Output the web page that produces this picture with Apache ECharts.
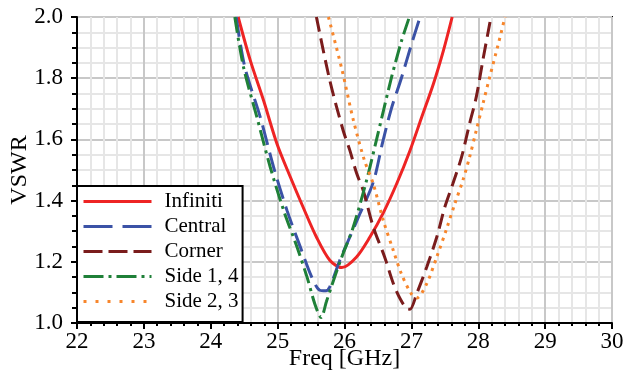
<!DOCTYPE html>
<html>
<head>
<meta charset="utf-8">
<script src="https://cdn.jsdelivr.net/npm/echarts@6/dist/echarts.min.js"></script>
<style>
  html, body { margin: 0; padding: 0; background: #fff; }
  #chart { width: 625px; height: 373px; }
</style>
</head>
<body>
<div id="chart"></div>
<script>
// Frequency sweep (GHz) and VSWR for each configuration
const infinitiFreq = [24.41, 24.59, 24.79, 24.99, 25.19, 25.38, 25.58, 25.78, 25.96, 26.18, 26.38, 26.58, 26.78, 26.98, 27.15, 27.33, 27.48, 27.61];
const infinitiVswr = [2.0, 1.859, 1.727, 1.586, 1.477, 1.379, 1.281, 1.205, 1.181, 1.216, 1.281, 1.36, 1.455, 1.564, 1.67, 1.782, 1.891, 2.0];

const centralFreq = [24.38, 24.51, 24.74, 24.94, 25.14, 25.34, 25.51, 25.63, 25.72, 25.78, 25.93, 26.08, 26.23, 26.43, 26.57, 26.70, 26.85, 27.0, 27.13];
const centralVswr = [2.0, 1.836, 1.673, 1.509, 1.368, 1.248, 1.15, 1.107, 1.105, 1.118, 1.205, 1.281, 1.357, 1.46, 1.59, 1.70, 1.80, 1.91, 2.0];

const cornerFreq = [25.58, 25.78, 25.98, 26.08, 26.18, 26.28, 26.43, 26.60, 26.73, 26.83, 26.93, 26.98, 27.08, 27.23, 27.38, 27.50, 27.62, 27.75, 27.87, 27.97, 28.07, 28.19];
const cornerVswr = [2.0, 1.793, 1.629, 1.564, 1.49, 1.433, 1.314, 1.216, 1.129, 1.08, 1.047, 1.045, 1.096, 1.183, 1.281, 1.379, 1.455, 1.542, 1.651, 1.738, 1.86, 2.0];

const side14Freq = [24.36, 24.49, 24.69, 24.89, 25.09, 25.29, 25.44, 25.56, 25.65, 25.73, 25.81, 25.96, 26.13, 26.33, 26.48, 26.70, 26.85, 26.97];
const side14Vswr = [2.0, 1.836, 1.673, 1.509, 1.368, 1.248, 1.15, 1.06, 1.018, 1.07, 1.123, 1.216, 1.313, 1.466, 1.60, 1.80, 1.92, 2.0];

const side23Freq = [25.76, 25.96, 26.13, 26.30, 26.43, 26.58, 26.73, 26.85, 27.0, 27.08, 27.23, 27.38, 27.53, 27.65, 27.77, 27.87, 27.97, 28.07, 28.17, 28.30, 28.40];
const side23Vswr = [2.0, 1.83, 1.665, 1.53, 1.455, 1.335, 1.237, 1.161, 1.095, 1.082, 1.129, 1.216, 1.31, 1.39, 1.466, 1.542, 1.629, 1.716, 1.803, 1.912, 2.0];

const seriesNames = ['Infiniti', 'Central', 'Corner', 'Side 1, 4', 'Side 2, 3'];

const xTicks = { min: 22, max: 30, step: 1 };
const yTicks = { min: 1.0, max: 2.0, step: 0.2 };

const pairs = (fs, vs) => fs.map((f, i) => [f, vs[i]]);

const FONT = '"Liberation Serif", "Times New Roman", serif';

// line colour, dash pattern in the plot, dash pattern in the legend key
const styles = [
  { color: '#ee2424', dash: 'solid', key: 'solid' },
  { color: '#3b52a6', dash: [20, 8], key: [29, 10] },
  { color: '#7a1c1c', dash: [15, 7], key: [19, 6] },
  { color: '#1f8038', dash: [16, 5, 3, 5], key: [20, 5, 3, 5] },
  { color: '#f7862c', dash: [3, 5], key: [3, 9] }
];

const chart = echarts.init(document.getElementById('chart'), null, { renderer: 'canvas' });

function lineSeries(i, data) {
  const s = styles[i];
  return {
    name: seriesNames[i],
    type: 'line',
    data: data,
    symbol: 'none',
    smooth: 0.3,
    clip: true,
    lineStyle: { color: s.color, width: 3, type: s.dash, cap: 'butt' },
    itemStyle: { color: s.color }
  };
}

chart.setOption({
  animation: false,
  backgroundColor: '#fff',
  grid: {
    left: 77, right: 13, top: 17, bottom: 50,
    containLabel: false, outerBoundsMode: 'none',
    show: true, borderColor: '#000', borderWidth: 2, backgroundColor: 'transparent'
  },
  xAxis: {
    type: 'value',
    min: xTicks.min, max: xTicks.max, interval: xTicks.step,
    name: 'Freq [GHz]', nameLocation: 'middle', nameGap: 24, nameMoveOverlap: false,
    nameTextStyle: { fontFamily: FONT, fontSize: 24, color: '#000' },
    axisLine: { show: true, onZero: false, lineStyle: { color: '#000', width: 2 } },
    axisTick: { show: true, inside: false, length: 6, lineStyle: { color: '#000', width: 2 } },
    minorTick: { show: true, splitNumber: 5, length: 3, lineStyle: { color: '#000', width: 2 } },
    axisLabel: { fontFamily: FONT, fontSize: 23, color: '#000', margin: 7 },
    splitLine: { show: true, lineStyle: { color: '#c8c8c8', width: 2 } },
    minorSplitLine: { show: true, lineStyle: { color: '#e6e6e6', width: 2 } }
  },
  yAxis: {
    type: 'value',
    min: yTicks.min, max: yTicks.max, interval: yTicks.step,
    name: 'VSWR', nameLocation: 'middle', nameGap: 45, nameRotate: 90, nameMoveOverlap: false,
    nameTextStyle: { fontFamily: FONT, fontSize: 24, color: '#000' },
    axisLine: { show: true, onZero: false, lineStyle: { color: '#000', width: 2 } },
    axisTick: { show: true, inside: false, length: 6, lineStyle: { color: '#000', width: 2 } },
    minorTick: { show: true, splitNumber: 4, length: 5, lineStyle: { color: '#000', width: 2 } },
    axisLabel: { fontFamily: FONT, fontSize: 23, color: '#000', margin: 14,
      formatter: v => v.toFixed(1) },
    splitLine: { show: true, lineStyle: { color: '#c8c8c8', width: 2 } },
    minorSplitLine: { show: true, lineStyle: { color: '#e6e6e6', width: 2 } }
  },
  legend: {
    data: seriesNames.map((n, i) => ({
      name: n,
      lineStyle: { color: styles[i].color, width: 3, type: styles[i].key, cap: 'butt' }
    })),
    orient: 'vertical',
    left: 77, top: 186,
    padding: [5, 4, 10, 5],
    itemWidth: 68, itemHeight: 14, itemGap: 4,
    backgroundColor: '#fff',
    borderColor: '#000', borderWidth: 2, borderRadius: 0,
    itemStyle: { opacity: 0 },
    textStyle: { fontFamily: FONT, fontSize: 21, color: '#000', lineHeight: 20, padding: [0, 0, 0, 8] },
    z: 10
  },
  series: [
    lineSeries(0, pairs(infinitiFreq, infinitiVswr)),
    lineSeries(1, pairs(centralFreq, centralVswr)),
    lineSeries(2, pairs(cornerFreq, cornerVswr)),
    lineSeries(3, pairs(side14Freq, side14Vswr)),
    lineSeries(4, pairs(side23Freq, side23Vswr))
  ]
});
</script>
</body>
</html>
